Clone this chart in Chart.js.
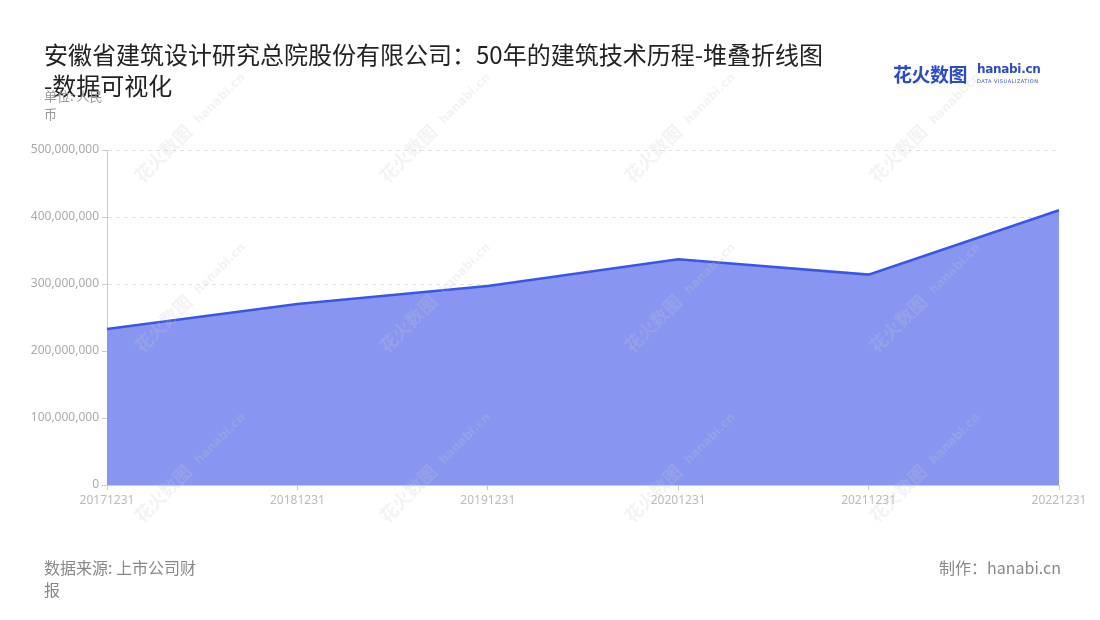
<!DOCTYPE html>
<html>
<head>
<meta charset="utf-8">
<script src="https://cdn.jsdelivr.net/npm/chart.js@4.4.1/dist/chart.umd.min.js"></script>
<style>
  body { margin: 0; background: #fff; font-family: "Noto Sans CJK SC", "Noto Sans", sans-serif; }
  #wrap { position: relative; width: 1100px; height: 620px; overflow: hidden; }
  #chartCanvas { position: absolute; left: 0; top: 0; }
  .title { position: absolute; left: 44px; top: 38px; width: 800px; font-size: 24px; line-height: 31px; color: #222; }
  .unit { position: absolute; left: 44px; top: 87px; width: 66px; font-size: 13px; line-height: 18px; color: #999; }
  .source { position: absolute; left: 44px; top: 556px; width: 160px; font-size: 16px; line-height: 22px; color: #888; }
  .maker { position: absolute; right: 39px; top: 556px; font-size: 16px; line-height: 22px; color: #888; }
  .logo { position: absolute; left: 893px; top: 60px; height: 30px; }
  .logo .cn { position: absolute; left: 0; top: 0; font-size: 19px; font-weight: bold; color: #2c4bc8; white-space: nowrap; letter-spacing: -0.5px; }
  .logo .en { position: absolute; left: 84px; top: 2px; font-size: 12px; font-weight: bold; color: #2c4bc8; white-space: nowrap; font-family: "DejaVu Sans", sans-serif; letter-spacing: -0.3px; }
  .logo .sub { position: absolute; left: 84px; top: 18px; font-size: 5px; color: #2c4bc8; white-space: nowrap; letter-spacing: 0.5px; font-family: "DejaVu Sans", sans-serif; }
</style>
</head>
<body>
<div id="wrap">
  <canvas id="chartCanvas" width="1100" height="620"></canvas>
  <div class="title">安徽省建筑设计研究总院股份有限公司：50年的建筑技术历程-堆叠折线图<br>-数据可视化</div>
  <div class="unit">单位: 人民币</div>
  <div class="logo"><span class="cn">花火数图</span><span class="en">hanabi.cn</span><span class="sub">DATA VISUALIZATION</span></div>
  <div class="source">数据来源: 上市公司财报</div>
  <div class="maker">制作：hanabi.cn</div>
</div>
<script>
const years = ['20171231', '20181231', '20191231', '20201231', '20211231', '20221231'];
const revenue = [233000000, 270000000, 297000000, 337000000, 314000000, 410000000];
const yTicks = [0, 100000000, 200000000, 300000000, 400000000, 500000000];

// faint repeated logo text across the canvas
const watermark = {
    id: 'watermark',
    afterDatasetsDraw(chart) {
        const ctx = chart.ctx;
        ctx.save();
        ctx.fillStyle = 'rgba(200, 200, 200, 0.22)';
        const cols = [165, 410, 655, 900];
        const rows = [150, 320, 490];
        rows.forEach(y => {
            cols.forEach(x => {
                ctx.save();
                ctx.translate(x, y);
                ctx.rotate(-Math.PI / 4);
                ctx.font = 'bold 18px "Noto Sans CJK SC"';
                ctx.fillText('花火数图', -40, 8);
                ctx.font = 'bold 12px "DejaVu Sans"';
                ctx.fillText('hanabi.cn', 42, 6);
                ctx.restore();
            });
        });
        ctx.restore();
    }
};

new Chart(document.getElementById('chartCanvas'), {
    type: 'line',
    data: {
        labels: years,
        datasets: [{
            label: '营业收入',
            data: revenue,
            borderColor: '#3b55e6',
            backgroundColor: '#8896f2',
            borderWidth: 2.5,
            fill: 'origin',
            pointRadius: 0,
            tension: 0
        }]
    },
    options: {
        responsive: false,
        animation: false,
        layout: { padding: { left: 30, right: 41, top: 150, bottom: 105 } },
        plugins: { legend: { display: false }, tooltip: { enabled: false } },
        scales: {
            x: {
                grid: { display: true, drawOnChartArea: false, drawTicks: true, tickLength: 5, tickColor: '#ccc' },
                border: { display: true, color: '#ccc' },
                ticks: { color: '#bbb', font: { size: 12, family: '"Noto Sans", sans-serif' }, padding: 3, maxRotation: 0 },
                afterFit(scale) { scale.height = 30; }
            },
            y: {
                min: 0,
                max: 500000000,
                afterBuildTicks(scale) { scale.ticks = yTicks.map(v => ({ value: v })); },
                grid: { color: '#e2e2e2', tickLength: 5, tickColor: '#ccc', tickBorderDash: [] },
                border: { display: true, color: '#ccc', dash: [4, 4] },
                ticks: {
                    color: '#aaa',
                    font: { size: 12, family: '"Noto Sans", sans-serif' },
                    padding: 3,
                    callback: v => v.toLocaleString('en-US')
                },
                afterFit(scale) { scale.width = 77; }
            }
        }
    },
    plugins: [watermark]
});
</script>
</body>
</html>
